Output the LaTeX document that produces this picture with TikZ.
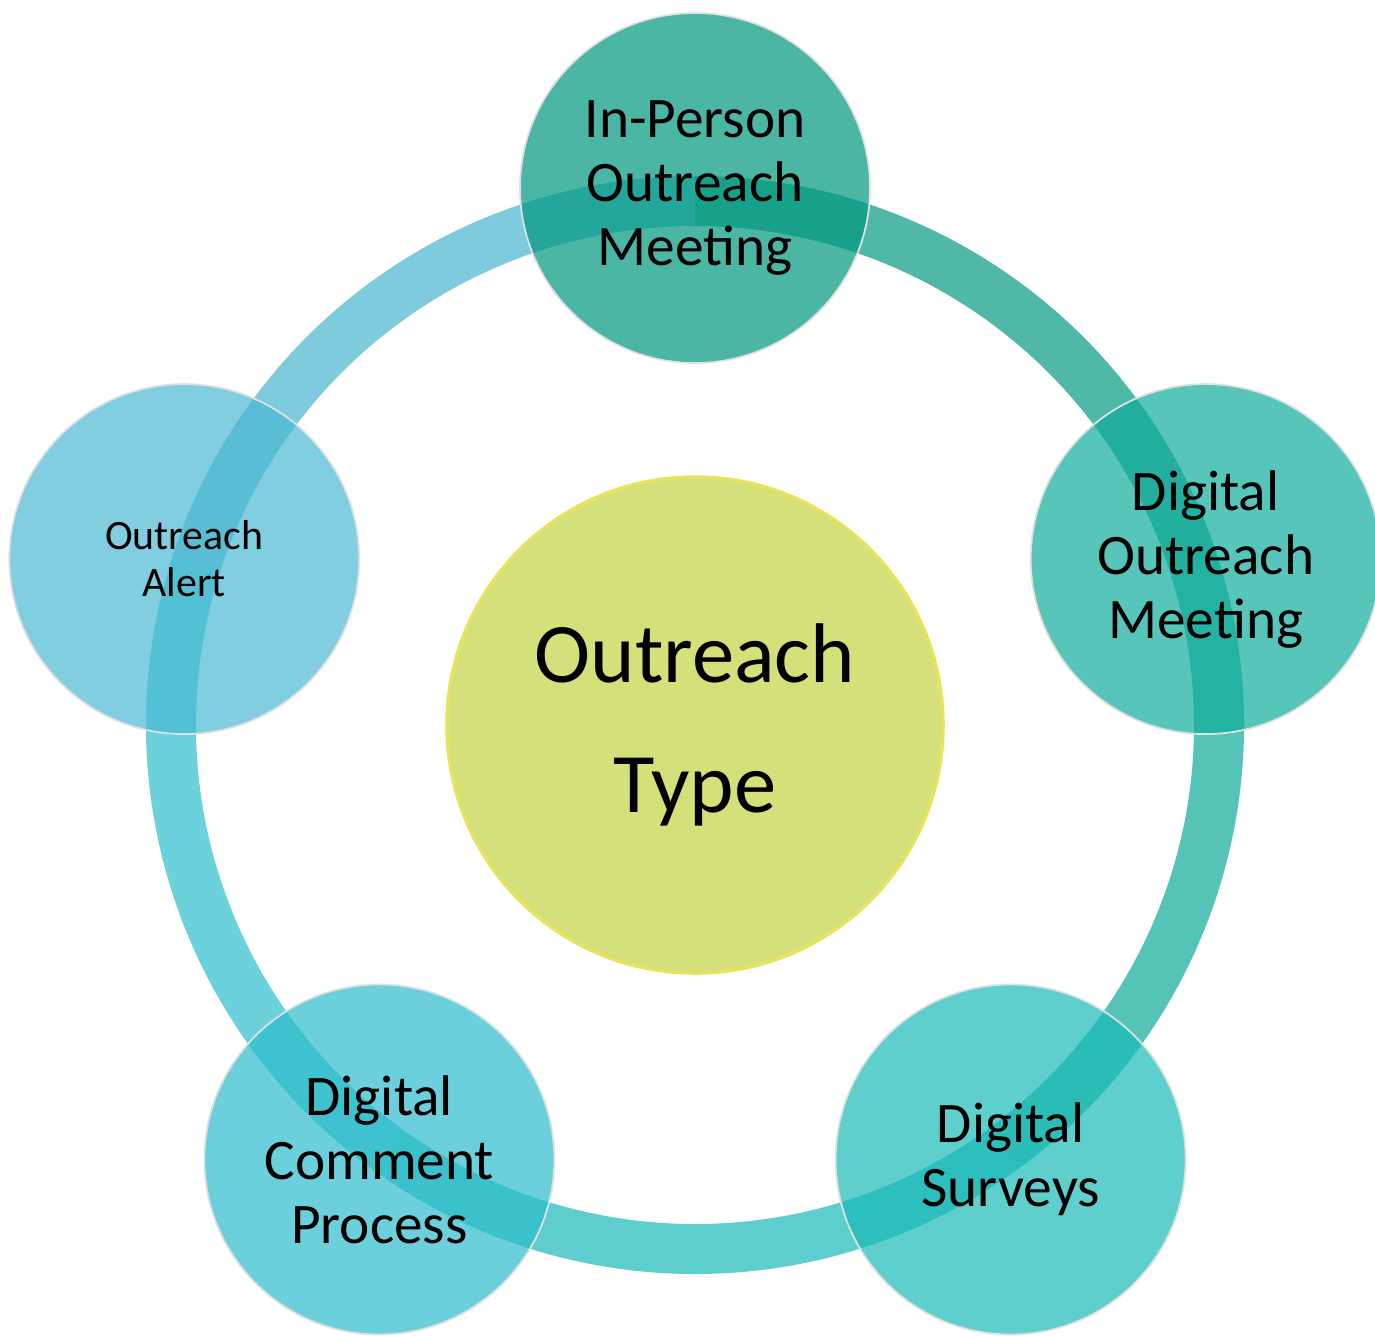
\documentclass[tikz,border=0pt]{standalone}
\usepackage{fontspec}
\setmainfont{Carlito}
\usetikzlibrary{calc}

% couleurs de l'anneau (vues sur fond blanc)
\definecolor{anneaubleu}{RGB}{126,203,221}
\definecolor{anneausarcelle}{RGB}{80,184,167}
\definecolor{anneauvert}{RGB}{85,195,182}
\definecolor{anneaucyan}{RGB}{93,205,206}
\definecolor{anneauciel}{RGB}{107,209,218}
% couleurs des bulles (avant transparence)
\definecolor{bulleun}{RGB}{0,151,126}
\definecolor{bulledeux}{RGB}{16,172,155}
\definecolor{bulletrois}{RGB}{25,186,182}
\definecolor{bullequatre}{RGB}{44,188,204}
\definecolor{bullecinq}{RGB}{74,185,211}
\definecolor{centrejaune}{RGB}{212,224,122}

\tikzset{
  bulle/.style={circle, minimum size=3.5cm, inner sep=0pt, align=center,
    fill opacity=0.7, text opacity=1, draw=black!12, line width=0.5pt,
    font=\fontsize{16.3}{18.2}\selectfont},
  anneau/.style={line width=0.5cm}
}

\begin{document}
\begin{tikzpicture}

%%%%%%%%%%%%%%%%%%%%%%
%%%	 Def géométrie  %%%
%%%%%%%%%%%%%%%%%%%%%%

\def \rayonanneau{5.24}
\def \rayonbulle{5.37}
\def \rayoncentre{4.96cm}

\useasboundingbox (-6.95,-6.10) rectangle (6.80,7.25);

%%%%%%%%%%%%%%%%%%%%%%
%%%	    Anneau      %%%
%%%%%%%%%%%%%%%%%%%%%%

% On trace l'anneau par morceaux, d'une bulle à la suivante
\draw[anneau, anneaubleu] (162:\rayonanneau) arc (162:90:\rayonanneau);
\draw[anneau, anneausarcelle] (90:\rayonanneau) arc (90:18:\rayonanneau);
\draw[anneau, anneauvert] (18:\rayonanneau) arc (18:-54:\rayonanneau);
\draw[anneau, anneaucyan] (-54:\rayonanneau) arc (-54:-126:\rayonanneau);
\draw[anneau, anneauciel] (-126:\rayonanneau) arc (-126:-198:\rayonanneau);

%%%%%%%%%%%%%%%%%%%%%%
%%%	    Bulles      %%%
%%%%%%%%%%%%%%%%%%%%%%

% Le cercle central
\node[circle, minimum size=\rayoncentre, inner sep=0pt, align=center,
  fill=centrejaune, draw=yellow!35!centrejaune, line width=1pt,
  font=\fontsize{24.1}{37}\selectfont] (type) at (0,0) {Outreach\\Type};

% Les cinq bulles autour
\node[bulle, fill=bulleun] (presentiel) at (90:\rayonbulle) {In-Person\\Outreach\\Meeting};
\node[bulle, fill=bulledeux] (reunion) at (18:\rayonbulle) {Digital\\Outreach\\Meeting};
\node[bulle, fill=bulletrois] (sondage) at (-54:\rayonbulle) {Digital\\Surveys};
\node[bulle, fill=bullequatre] (commentaire) at (-126:\rayonbulle) {Digital\\Comment\\Process};
\node[bulle, fill=bullecinq, font=\fontsize{11.9}{13.4}\selectfont] (alerte) at (162:\rayonbulle) {Outreach\\Alert};

\end{tikzpicture}
\end{document}
